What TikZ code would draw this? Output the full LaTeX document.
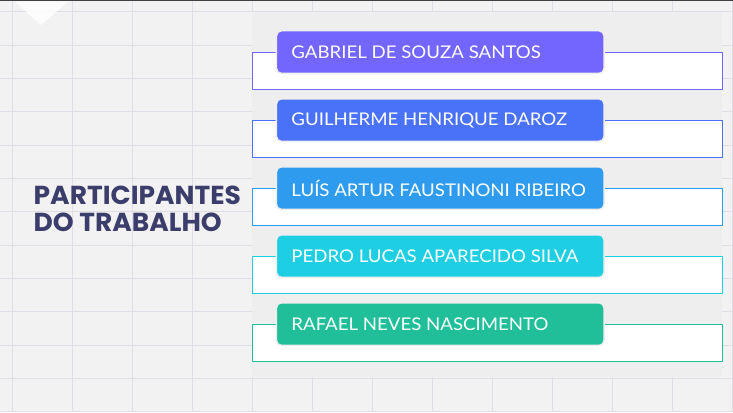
\documentclass[tikz,border=0pt]{standalone}
\usepackage{fontspec}
\setmainfont{Lato}
\newfontfamily\namefont[FakeStretch=1.065]{Lato}
\newfontfamily\titlefont[FakeStretch=1.02]{Poppins}
\definecolor{bgc}{HTML}{F2F2F2}
\definecolor{panelc}{HTML}{EEEEEE}
\definecolor{gridc}{HTML}{E1DDE6}
\definecolor{titlec}{HTML}{3B3D6B}
\definecolor{ca}{HTML}{7366FF}
\definecolor{cb}{HTML}{4A72F8}
\definecolor{cc}{HTML}{2F9BEF}
\definecolor{cd}{HTML}{1ECFE4}
\definecolor{ce}{HTML}{20BF9A}
\tikzset{
  outbox/.style={draw=#1, line width=1pt, fill=white, minimum width=470pt, minimum height=37.3pt, anchor=north west, inner sep=0pt},
  namebox/.style={fill=#1, draw=panelc, line width=1.5pt, rounded corners=5pt, minimum width=327.6pt, minimum height=42.7pt, inner xsep=15pt, inner ysep=0pt, anchor=north west, text=white, font=\namefont\fontsize{17.5}{19}\selectfont},
}
\begin{document}
\begin{tikzpicture}[x=1pt,y=-1pt]
\useasboundingbox (0,0) rectangle (733,412);
\fill[bgc] (0,0) rectangle (733,412);
\foreach \gx in {12,72,...,732} \draw[gridc, line width=1pt] (\gx,0) -- (\gx,412);
\foreach \gy in {12,45.3,...,412} \draw[gridc, line width=1pt] (0,\gy) -- (733,\gy);
\fill[darkgray] (0,0) rectangle (733,1.5);
\fill[white, opacity=0.8] (15,1.5) -- (68,1.5) -- (41,25) -- cycle;
\fill[panelc] (252,12) rectangle (722,377);
\node[font=\titlefont\bfseries\fontsize{26}{27.3}\selectfont, text=titlec, align=left, anchor=west, inner sep=0pt] (title) at (33.5,209) {PARTICIPANTES\\DO TRABALHO};
\foreach \i/\c/\t in {0/ca/GABRIEL DE SOUZA SANTOS, 1/cb/GUILHERME HENRIQUE DAROZ, 2/cc/LUÍS ARTUR FAUSTINONI RIBEIRO, 3/cd/PEDRO LUCAS APARECIDO SILVA, 4/ce/RAFAEL NEVES NASCIMENTO}{
  \node[outbox=\c] (o\i) at (252,51.7+68*\i) {};
  \node[namebox=\c] (n\i) at (275.7,30+68*\i) {\makebox[297.6pt][l]{\t}};
}
\end{tikzpicture}
\end{document}
